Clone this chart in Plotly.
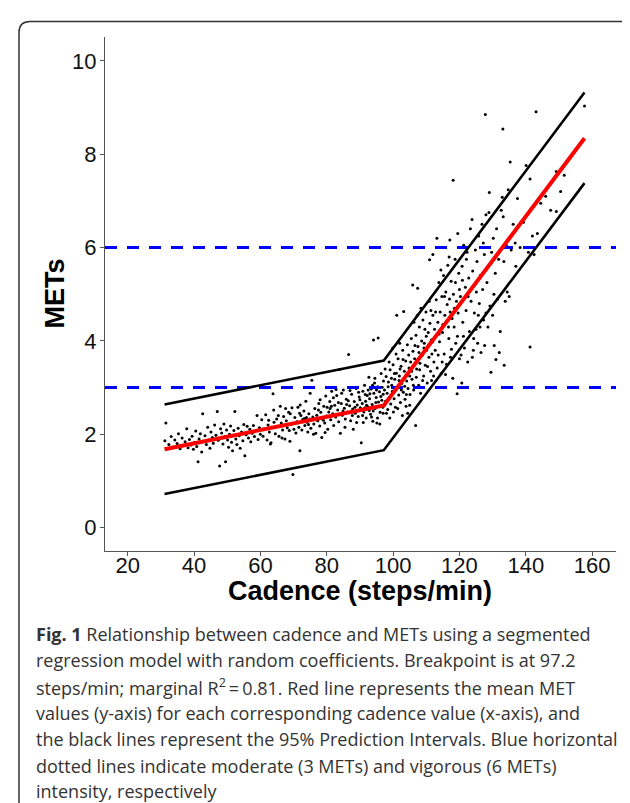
import plotly.graph_objects as go

# ---------------- data ----------------
cad_low = [31.2,31.5,32.4,33.1,33.6,34.2,34.9,35.3,35.8,36.4,36.9,37.3,37.8,38.2,38.6,39.1,39.4,39.8,40.2,40.5,
           40.8,41.2,41.5,41.9,42.3,42.6,42.9,43.3,43.7,44.1,44.4,44.8,45.1,45.5,45.8,46.2,46.6,47.0,47.3,47.7,
           48.0,48.3,48.7,49.0,49.3,49.5,49.8,50.1,50.4,50.7,
           51.0,51.3,51.6,52.0,52.3,52.6,52.9,53.3,53.6,53.9,54.3,54.7,55.0,55.3,55.7,56.0,56.4,56.8,57.1,57.5,
           57.9,58.2,58.6,59.0,59.3,59.7,60.0,60.4,60.8,61.2,
           61.6,62.0,62.3,62.7,63.0,63.4,63.8,64.1,64.5,64.9,65.2,65.6,66.0,66.3,66.7,67.0,67.4,67.8,68.1,68.5,
           68.9,69.2,69.5,69.8,70.1,70.4,70.7,66.5,64.0,62.5,67.6,65.4,68.7,63.2,69.0,
           71.0,71.3,71.6,71.9,72.2,72.5,72.8,73.1,73.4,73.7,74.0,74.3,74.6,74.9,75.2,75.5,75.8,76.1,76.4,76.7,
           77.0,77.3,77.6,77.9,78.2,78.5,78.8,79.1,79.4,79.7,80.0,80.3,72.0,73.9,75.0,76.8,78.0,79.5,71.8,74.5,
           77.5,80.1,76.0,73.3,79.0,
           80.6,80.9,81.2,81.5,81.8,82.1,82.4,82.7,83.0,83.3,83.6,83.8,84.1,84.4,84.7,85.0,85.3,85.6,85.9,86.2,
           86.6,86.9,87.2,87.5,87.8,88.0,88.3,88.6,88.9,89.2,89.5,89.8,90.1,90.4,81.0,82.0,83.5,84.5,85.5,86.5,
           87.0,88.5,89.0,90.0,82.8,84.9,86.0,87.7,89.6,81.4,
           90.7,90.9,91.2,91.4,91.7,91.9,92.2,92.4,92.7,92.9,93.2,93.4,93.7,93.9,94.1,94.2,94.4,94.6,94.9,95.1,
           95.4,95.5,95.6,95.9,96.1,96.4,96.6,96.9,97.1,91.0,92.0,93.0,94.0,95.0,96.0,97.0,91.5,92.5,93.5,94.5,
           95.7,96.7,92.8,94.8,96.3,90.8,93.8,95.3,91.6,97.0]
met_low = [1.86,2.24,1.78,1.95,1.72,1.88,1.80,2.01,1.69,1.92,1.76,1.84,2.12,1.71,1.89,1.77,1.96,1.68,1.83,2.07,
           1.74,1.41,1.90,2.01,1.62,2.44,1.85,1.97,1.78,2.15,1.88,1.70,2.05,1.93,1.81,2.20,1.98,2.49,1.87,1.32,
           2.12,2.03,1.79,2.22,1.95,1.41,2.09,1.88,1.72,2.00,
           2.18,1.83,1.65,2.08,2.49,1.90,1.78,2.13,1.97,1.70,2.05,1.86,2.21,1.54,1.99,2.17,1.92,2.11,1.84,2.02,
           2.19,1.95,2.08,2.40,1.89,2.14,2.00,2.31,1.96,2.12,
           2.42,1.88,2.20,2.05,1.79,2.15,2.87,2.26,2.01,2.33,2.17,1.96,2.60,2.24,2.09,2.38,1.90,2.29,2.14,2.47,
           1.85,2.21,2.57,1.14,2.11,2.36,2.03,1.92,2.52,2.30,2.55,2.40,2.08,1.82,2.44,
           2.27,2.58,2.15,1.65,2.40,2.09,2.32,2.50,2.19,2.71,2.26,2.05,2.44,2.33,2.13,3.16,2.37,2.22,2.55,2.02,
           2.41,2.29,2.66,2.18,2.47,1.93,2.35,2.60,2.24,2.82,2.39,2.11,2.63,2.36,2.88,2.31,2.74,2.04,2.45,2.21,
           2.52,2.58,2.00,2.34,2.30,
           2.48,2.70,2.31,2.92,2.44,2.19,2.62,2.37,2.83,2.52,2.27,3.39,2.02,2.66,2.41,2.95,2.56,2.33,2.75,2.48,
           3.71,2.61,2.29,2.86,2.54,2.11,2.70,2.45,2.98,2.63,2.38,2.80,2.57,1.82,2.55,2.78,2.68,2.88,2.15,2.72,
           2.94,2.58,2.25,2.74,2.96,2.50,2.64,2.40,2.90,2.60,
           2.66,2.92,2.48,3.05,2.71,2.35,2.83,2.59,3.22,2.76,2.43,2.97,2.64,2.28,4.02,2.88,3.10,2.55,2.79,2.24,
           3.02,4.06,2.69,2.91,2.47,3.30,2.73,2.58,3.14,2.25,2.62,2.87,2.50,2.95,2.22,2.86,2.57,2.95,2.37,3.20,
           2.60,3.01,2.51,2.68,2.81,2.40,3.05,2.35,2.85,2.45]

cad_high = [97.4,97.7,97.9,98.2,98.4,98.6,98.9,99.1,99.3,99.6,99.8,100.0,100.3,100.5,100.7,101.0,101.1,101.2,101.5,101.7,
            101.9,102.2,102.4,102.6,102.9,103.1,103.2,103.4,103.6,103.8,104.1,104.3,104.5,104.8,105.0,97.6,98.0,98.8,99.5,100.1,
            100.9,101.4,102.0,102.8,103.5,104.0,104.7,99.0,100.6,102.5,103.9,105.0,98.5,101.8,99.9,103.0,104.4,97.8,100.4,102.1,
            105.3,105.5,105.7,105.9,106.0,106.2,106.5,106.8,106.9,107.1,107.4,107.5,107.7,107.9,108.1,108.3,108.6,108.8,109.0,109.2,
            109.4,109.7,109.9,110.1,110.3,110.6,110.8,111.0,111.1,111.3,111.5,111.7,112.0,112.0,105.6,106.3,107.0,107.8,108.4,109.1,
            109.6,110.4,110.9,111.6,106.6,108.0,109.3,110.0,111.9,105.1,107.3,108.9,110.7,111.4,106.1,
            112.3,112.5,112.7,113.0,113.2,113.3,113.5,113.8,114.0,114.2,114.5,114.7,114.9,115.2,115.4,115.6,115.9,116.1,116.3,116.5,
            116.8,117.0,117.1,117.3,117.5,117.8,118.0,118.1,118.2,118.4,118.7,118.9,119.1,119.3,119.5,119.6,119.8,120.0,112.8,113.6,
            114.4,115.0,115.8,116.7,117.6,118.5,119.4,120.0,113.9,115.5,116.9,118.8,112.2,114.8,117.2,
            120.3,120.5,120.7,120.8,121.0,121.3,121.5,121.8,122.0,122.3,122.5,122.8,123.0,123.3,123.5,123.8,124.0,124.2,124.5,124.8,
            125.0,125.3,125.5,125.8,126.0,126.3,126.5,126.8,127.0,127.3,127.5,127.8,128.0,121.2,122.6,123.9,125.1,126.2,127.2,120.9,
            122.1,124.3,125.7,127.6,128.0,
            128.3,128.6,128.9,129.0,129.2,129.5,129.7,130.0,130.2,130.5,130.8,131.0,131.2,131.5,131.8,132.0,132.3,132.6,132.9,133.1,
            133.2,133.4,133.5,133.8,134.1,134.4,134.7,135.0,135.3,130.4,
            135.6,136.2,136.8,137.5,138.3,139.3,140.1,140.8,141.3,141.3,142.0,142.5,143.1,143.5,144.5,146.0,147.5,149.2,149.2,150.5,
            151.6,153.0,155.0,157.7,137.0]
met_high = [2.95,2.71,3.24,2.88,2.53,3.12,2.79,3.38,2.65,3.05,2.92,3.49,2.76,3.18,2.58,3.31,4.55,2.99,3.62,2.84,
            3.25,2.68,3.46,3.09,3.80,2.90,4.63,3.35,2.75,3.57,3.14,3.92,2.98,3.42,2.62,3.40,2.45,3.55,3.20,2.48,
            3.72,2.55,3.95,2.40,3.03,2.85,3.70,2.35,3.00,2.95,2.60,3.25,3.02,3.15,3.85,3.60,2.45,2.68,3.30,3.40,
            3.55,4.05,3.18,5.20,3.78,2.95,3.62,2.19,4.12,3.40,5.13,3.88,3.05,4.30,3.52,2.88,4.00,3.70,4.45,3.25,
            3.95,3.48,4.62,3.80,3.10,4.18,3.65,5.74,4.38,3.35,4.02,3.72,5.85,4.55,3.35,4.40,3.22,3.75,4.70,3.00,
            4.25,3.45,4.85,3.15,3.90,3.38,3.85,4.10,3.98,2.85,4.55,3.15,3.92,4.65,3.05,
            3.55,4.25,3.80,4.88,6.20,3.42,4.40,5.25,3.98,4.62,3.30,4.95,4.18,5.40,3.72,4.55,5.05,3.50,4.78,5.62,
            4.05,4.90,6.16,3.65,5.28,4.48,3.20,7.44,5.00,4.30,5.75,3.95,4.85,2.87,6.30,4.60,5.45,3.62,4.62,3.70,
            5.52,4.35,3.28,4.30,3.82,4.70,4.10,5.10,4.15,4.95,5.80,5.25,3.25,3.55,4.62,
            4.95,3.70,3.10,5.60,4.40,6.05,3.85,5.15,4.65,5.90,3.55,5.35,4.20,6.40,4.85,6.60,5.50,3.80,4.60,5.95,
            4.25,5.70,3.95,6.25,4.80,5.40,3.75,6.50,5.10,4.45,5.85,8.85,4.60,4.10,4.95,3.65,5.05,4.30,6.10,5.30,
            5.75,4.05,4.55,3.90,6.70,
            5.25,4.30,6.75,7.18,4.75,3.33,5.90,4.55,6.20,3.90,5.45,3.60,6.40,4.90,5.75,3.75,4.20,6.80,7.08,8.54,
            6.66,5.70,3.48,4.85,6.05,5.05,7.24,4.95,7.83,5.00,
            5.95,6.50,6.10,7.05,6.00,6.54,7.76,5.90,7.47,3.87,6.25,5.85,8.91,6.30,6.95,7.10,6.80,7.63,6.77,7.20,
            7.55,7.90,8.10,9.03,5.60]

# segmented model: cadence at start, breakpoint (97.2), end
model_cad = [31.1, 97.2, 157.7]
mean_met = [1.68, 2.62, 8.34]
upper_pi = [2.64, 3.58, 9.32]
lower_pi = [0.72, 1.66, 7.38]

thresholds = [3, 6]  # moderate, vigorous

x_ticks = [20, 40, 60, 80, 100, 120, 140, 160]
y_ticks = [0, 2, 4, 6, 8, 10]
x_range = [13.15, 167.2]
y_range = [-0.5, 10.51]

caption_lines = [
    "<b>Fig. 1</b> Relationship between cadence and METs using a segmented",
    "regression model with random coefficients. Breakpoint is at 97.2",
    "steps/min; marginal R<sup>2</sup>\u2009=\u20090.81. Red line represents the mean MET",
    "values (y-axis) for each corresponding cadence value (x-axis), and",
    "the black lines represent the 95% Prediction Intervals. Blue horizontal",
    "dotted lines indicate moderate (3 METs) and vigorous (6 METs)",
    "intensity, respectively",
]

# ---------------- layout geometry (pixels) ----------------
W, H = 630, 803
ML, MR, MT, MB = 97, 22, 29, 260
PW, PH = W - ML - MR, H - MT - MB


def px(x):
    return (x - ML) / PW


def py(y):
    return (H - MB - y) / PH


fig = go.Figure()

fig.add_trace(go.Scatter(
    x=cad_low + cad_high, y=met_low + met_high, mode="markers",
    marker=dict(color="black", size=3), hoverinfo="skip", showlegend=False))

for t in thresholds:
    fig.add_trace(go.Scatter(
        x=x_range, y=[t, t], mode="lines",
        line=dict(color="#0000FF", width=3, dash="12px,10px"),
        hoverinfo="skip", showlegend=False))

for ys in (upper_pi, lower_pi):
    fig.add_trace(go.Scatter(x=model_cad, y=ys, mode="lines",
                             line=dict(color="black", width=2.6),
                             hoverinfo="skip", showlegend=False))

fig.add_trace(go.Scatter(x=model_cad, y=mean_met, mode="lines",
                         line=dict(color="#FF0000", width=4),
                         hoverinfo="skip", showlegend=False))

axis_common = dict(showgrid=False, zeroline=False, showline=True,
                   linecolor="#555555", linewidth=1.4, ticks="outside",
                   ticklen=4, tickwidth=1.2, tickcolor="#555555",
                   tickfont=dict(family="Arial, Liberation Sans", size=22, color="#111111"))

fig.update_layout(
    width=W, height=H,
    margin=dict(l=ML, r=MR, t=MT, b=MB),
    plot_bgcolor="white", paper_bgcolor="white",
    xaxis=dict(range=x_range, tickvals=x_ticks, ticklabelstandoff=-10, **axis_common),
    yaxis=dict(range=y_range, tickvals=y_ticks, ticklabelstandoff=-1, **axis_common),
    showlegend=False,
)

ann = [
    dict(text="<b>METs</b>", x=px(46.5), y=py(286), xref="paper", yref="paper",
         textangle=-90, showarrow=False, xanchor="center", yanchor="middle",
         font=dict(family="Arial, Liberation Sans", size=27, color="black")),
    dict(text="<b>Cadence (steps/min)</b>", x=px(352), y=py(583), xref="paper", yref="paper",
         showarrow=False, xanchor="center", yanchor="middle",
         font=dict(family="Arial, Liberation Sans", size=27, color="black")),
]
baselines = [632.5, 658.8, 685.1, 711.4, 737.7, 764.0, 789.8]
for line, b in zip(caption_lines, baselines):
    ann.append(dict(text=line, x=px(26), y=py(b - 6.5), xref="paper", yref="paper",
                    showarrow=False, xanchor="left", yanchor="middle",
                    font=dict(family="Open Sans", size=18, color="#333333")))
fig.update_layout(annotations=ann)

# rounded frame around the figure (open at the bottom)
L_, R_, T_, B_, r = 11, 628.5, 13.5, 830, 11
frame = (f"M {px(L_)},{py(B_)} L {px(L_)},{py(T_ + r)} "
         f"Q {px(L_)},{py(T_)} {px(L_ + r)},{py(T_)} "
         f"L {px(R_ - r)},{py(T_)} Q {px(R_)},{py(T_)} {px(R_)},{py(T_ + r)} "
         f"L {px(R_)},{py(B_)}")
fig.add_shape(type="path", path=frame, xref="paper", yref="paper",
              line=dict(color="#333333", width=1.5))

fig.write_html("out.html", config={"displayModeBar": False})
